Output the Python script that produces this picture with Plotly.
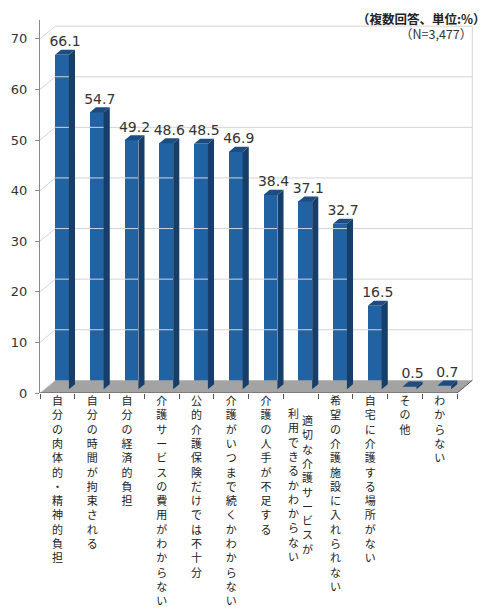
import plotly.graph_objects as go

# データ
categories = [
    ["自分の肉体的・精神的負担"],
    ["自分の時間が拘束される"],
    ["自分の経済的負担"],
    ["介護サービスの費用がわからない"],
    ["公的介護保険だけでは不十分"],
    ["介護がいつまで続くかわからない"],
    ["介護の人手が不足する"],
    ["適切な介護サービスが", "利用できるかわからない"],
    ["希望の介護施設に入れられない"],
    ["自宅に介護する場所がない"],
    ["その他"],
    ["わからない"],
]
values = [66.1, 54.7, 49.2, 48.6, 48.5, 46.9, 38.4, 37.1, 32.7, 16.5, 0.5, 0.7]
y_ticks = [0, 10, 20, 30, 40, 50, 60, 70]

# 擬似3D用の奥行き
DX, DY = 0.44, 2.5
F0, F1 = 0.3, 0.7
BW = 0.4
n = len(values)

FRONT = "#2162a3"
SIDE = "#163e69"
TOP = "#1c4d82"
CJK = "Noto Sans CJK JP"
NUM = "DejaVu Sans"
LBL = 11

fig = go.Figure()

# 床
fig.add_trace(go.Scatter(
    x=[-0.5, n - 0.5, n - 0.5 + DX, -0.5 + DX, -0.5],
    y=[0, 0, DY, DY, 0],
    fill="toself", fillcolor="#a3a3a3", mode="lines",
    line=dict(width=0), hoverinfo="skip", showlegend=False
))

# 壁のグリッド線
gx, gy = [], []
for v in y_ticks:
    gx += [-0.5, -0.5 + DX, None]
    gy += [v, v + DY, None]
    if v > 0:
        gx += [-0.5 + DX, n - 0.5 + DX, None]
        gy += [v + DY, v + DY, None]
gx += [n - 0.5 + DX, n - 0.5 + DX]
gy += [DY, y_ticks[-1] + DY]
fig.add_trace(go.Scatter(
    x=gx, y=gy, mode="lines", line=dict(color="#d4d4d4", width=1),
    hoverinfo="skip", showlegend=False
))

# 床の縁
fig.add_trace(go.Scatter(
    x=[-0.5, n - 0.5, n - 0.5 + DX], y=[0, 0, DY], mode="lines",
    line=dict(color="#555555", width=1), hoverinfo="skip", showlegend=False
))

# 棒
base = F0 * DY
centers = [i + F0 * DX for i in range(n)]
fig.add_trace(go.Bar(
    x=centers, y=values, base=base, width=BW,
    marker=dict(color=FRONT, line=dict(width=0)), showlegend=False
))

s = F1 - F0
sx, sy, tx, ty = [], [], [], []
for c, v in zip(centers, values):
    L, R = c - BW / 2, c + BW / 2
    top = base + v
    sx += [R, R + s * DX, R + s * DX, R, R, None]
    sy += [base, base + s * DY, top + s * DY, top, base, None]
    tx += [L, R, R + s * DX, L + s * DX, L, None]
    ty += [top, top, top + s * DY, top + s * DY, top, None]
fig.add_trace(go.Scatter(
    x=sx, y=sy, fill="toself", fillcolor=SIDE, mode="lines",
    line=dict(width=0), hoverinfo="skip", showlegend=False
))
fig.add_trace(go.Scatter(
    x=tx, y=ty, fill="toself", fillcolor=TOP, mode="lines",
    line=dict(width=0), hoverinfo="skip", showlegend=False
))

# 数値ラベル
fig.add_trace(go.Scatter(
    x=[c + s * DX / 2 for c in centers],
    y=[base + v + s * DY for v in values],
    mode="text", text=[f"{v:.1f}" for v in values],
    textposition="top center",
    textfont=dict(family=NUM, size=14, color="#333333"),
    hoverinfo="skip", showlegend=False
))

# 項目ラベル（縦書き）
ticktext = []
for i, cols in enumerate(categories):
    if len(cols) == 1:
        ticktext.append("<br>".join(cols[0]))
    else:
        ticktext.append("")
        # 右の列から読む
        for k, col in enumerate(cols):
            fig.add_annotation(
                x=i + 0.21 - 0.42 * k, xref="x",
                y=-0.046 if k == 0 else -0.026, yref="paper",
                text="<br>".join(col), showarrow=False,
                xanchor="center", yanchor="top",
                font=dict(family=CJK, size=LBL, color="#222222")
            )

fig.add_annotation(
    x=1.028, xref="paper", y=1.031, yref="paper",
    text="<b>（複数回答、単位:%）</b>", showarrow=False,
    xanchor="right", yanchor="top", borderpad=0,
    font=dict(family=CJK, size=12.5, color="#222222")
)
fig.add_annotation(
    x=0.997, xref="paper", y=0.965, yref="paper",
    text="（N=3,477）", showarrow=False,
    xanchor="right", yanchor="middle",
    font=dict(family=CJK, size=12.5, color="#333333")
)

# ページ本体の余白 8px を差し引く
fig.update_layout(
    width=489, height=607,
    margin=dict(l=32, r=22, t=12, b=222),
    plot_bgcolor="white", paper_bgcolor="white",
    bargap=0,
    xaxis=dict(
        range=[-0.5, -0.5 + 435 / 34.75], automargin=False,
        tickmode="array", tickvals=list(range(n)), ticktext=ticktext,
        ticks="", showgrid=False, zeroline=False, showline=False,
        tickfont=dict(family=CJK, size=LBL, color="#222222"),
        tickangle=0,
        minor=dict(tickmode="array", tickvals=[i - 0.5 for i in range(n + 1)],
                   ticks="outside", ticklen=5, tickcolor="#555555", showgrid=False),
    ),
    yaxis=dict(
        range=[0, 373 / 5.06], automargin=False,
        tickmode="array", tickvals=y_ticks,
        ticks="outside", ticklen=4, tickcolor="#888888",
        showline=True, linecolor="#888888", linewidth=1,
        showgrid=False, zeroline=False, ticklabelstandoff=5,
        tickfont=dict(family=NUM, size=13, color="#333333"),
    ),
)

fig.write_html("out.html")
